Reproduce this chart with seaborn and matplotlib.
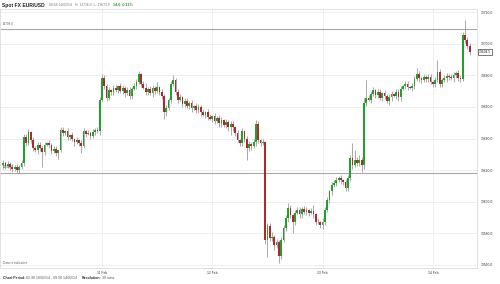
import numpy as np
import pandas as pd
import matplotlib
matplotlib.use("Agg")
import matplotlib.pyplot as plt
import seaborn as sns
from matplotlib.transforms import blended_transform_factory

sns.set_theme(style="white")
plt.rcParams["font.family"] = ["Liberation Sans", "DejaVu Sans"]

# ---------------- data (30-minute candles, EUR/USD x10000) ----------------
first_hour = 2.5          # 02:30 on 10 Feb (hours since 10 Feb 00:00)
step_hours = 0.5          # resolution 30 mins
first_open = 13623.0

close = [
    13624.5, 13622.5, 13624, 13622, 13620.5, 13622, 13620, 13622, 13624.5, 13641,
    13637, 13644, 13639, 13634, 13632.5, 13636, 13634, 13631.5, 13636, 13637,
    13636, 13632, 13633.5, 13631, 13632.5, 13645.5, 13643.5, 13644.5, 13641, 13642,
    13639.5, 13637.5, 13639, 13637, 13635, 13644.5, 13643, 13643.5, 13641.5, 13644,
    13645.5, 13644.5, 13664.5, 13678, 13673.5, 13665.5, 13670.5, 13669.5, 13672, 13670.5,
    13673, 13670, 13672, 13668.5, 13670.5, 13667, 13671.5, 13673, 13675.5, 13680.5,
    13674.5, 13672, 13669.5, 13671.5, 13668.5, 13672, 13670, 13672.5, 13669.5, 13667,
    13656.5, 13659, 13664.5, 13674.5, 13677, 13669.5, 13664.5, 13666, 13662, 13663.5,
    13660.5, 13662.5, 13659, 13660.5, 13658, 13660, 13656.5, 13655, 13656.5, 13653.5,
    13652.5, 13654, 13651, 13653, 13649.5, 13651.5, 13648.5, 13650.5, 13647, 13649,
    13647, 13643.5, 13639, 13637, 13644.5, 13639.5, 13634, 13636.5, 13635, 13637.5,
    13649, 13639, 13637, 13637.5, 13575.5, 13584.5, 13577, 13578, 13572.5, 13574.5,
    13566, 13575.5, 13583.5, 13589.5, 13596, 13591.5, 13587, 13593, 13594.5, 13592,
    13595.5, 13593.5, 13594.5, 13593, 13594, 13592, 13587.5, 13587, 13585, 13587.5,
    13594.5, 13601, 13606.5, 13610.5, 13612, 13613.5, 13615, 13613.5, 13612.5, 13608.5,
    13615, 13627.5, 13623, 13626.5, 13624.5, 13626.5, 13623, 13662.5, 13665.5, 13664.5,
    13668, 13670.5, 13667.5, 13669.5, 13665.5, 13668.5, 13667, 13663.5, 13666, 13668,
    13667, 13669.5, 13666, 13671.5, 13673, 13674.5, 13672.5, 13672, 13673, 13677.5,
    13680.5, 13678, 13677, 13679, 13677.5, 13679, 13675.5, 13674.5, 13677, 13682,
    13674.5, 13677, 13678, 13679.5, 13679, 13678, 13680, 13681.5, 13678, 13677.5,
    13705.5, 13702.5, 13698.5, 13694.5,
]

upper_wick = [
    2, 1, 2, 1, 2, 1, 2, 1, 2, 2,
    2, 2, 1, 2, 1, 2, 2, 1, 2, 1,
    2, 1, 2, 2, 1, 2, 2, 1, 2, 1,
    2, 1, 2, 1, 2, 2, 1, 2, 1, 2,
    1, 2, 2, 3, 2, 1, 2, 1, 2, 2,
    1, 2, 2, 1, 2, 2, 1, 2, 2, 2,
    1, 2, 3, 1, 2, 2, 1, 3, 1, 2,
    1, 2, 1, 2, 3, 1, 2, 2, 1, 2,
    2, 1, 2, 1, 2, 2, 1, 2, 1, 2,
    2, 1, 2, 1, 2, 2, 1, 2, 1, 2,
    2, 1, 2, 1, 2, 1, 2, 2, 1, 2,
    3, 2, 1, 2, 1, 2, 2, 3, 1, 2,
    1, 2, 2, 2, 3, 2, 1, 2, 2, 2,
    1, 2, 2, 1, 2, 4, 1, 2, 1, 2,
    2, 2, 1, 2, 2, 2, 1, 2, 1, 2,
    2, 2, 9.5, 6, 2, 3, 2, 3, 11.5, 2,
    2, 2, 1, 2, 2, 1, 2, 1, 2, 2,
    1, 2, 2, 2, 1, 2, 2, 1, 2, 2,
    4, 2, 1, 2, 1, 2, 2, 1, 2, 7.5,
    2, 1, 2, 2, 1, 2, 2, 1, 2, 2,
    2, 9.5, 2, 2,
]

lower_wick = [
    2, 2, 1, 2, 2, 1, 2, 2, 1, 2,
    2, 1, 2, 2, 1, 2, 2, 9.5, 2, 1,
    2, 2, 1, 2, 4, 1, 2, 1, 2, 2,
    1, 2, 1, 2, 4, 1, 2, 1, 2, 1,
    2, 1, 2, 1, 2, 2, 1, 2, 2, 1,
    2, 1, 2, 2, 1, 2, 2, 1, 2, 1,
    2, 1, 2, 2, 1, 2, 2, 1, 2, 2,
    4, 2, 1, 2, 1, 2, 2, 1, 2, 2,
    1, 2, 2, 1, 2, 2, 2, 1, 2, 2,
    1, 2, 2, 1, 2, 2, 1, 2, 2, 5,
    2, 2, 1, 2, 2, 2, 7.5, 2, 2, 1,
    2, 2, 2, 1, 2, 10.5, 2, 2, 3, 2,
    5, 2, 1, 2, 2, 2, 7, 2, 1, 2,
    2, 1, 2, 2, 1, 2, 2, 1, 1.5, 2,
    2, 1, 2, 2, 1, 2, 1, 2, 2, 2,
    2, 2, 2, 1, 2, 2, 4.5, 2, 2, 1,
    2, 1, 2, 2, 1, 2, 2, 1, 2, 2,
    1, 2, 2, 2, 1, 2, 2, 1, 2, 2,
    1, 2, 2, 1, 2, 2, 1, 2, 2, 1,
    2, 2, 1, 2, 2, 1, 2, 2, 1.5, 2,
    1, 2, 2, 2,
]

y_ticks = [13560, 13580, 13600, 13620, 13640, 13660, 13680, 13700, 13720]
day_hours = [24, 48, 72, 96]
day_labels = ["11 Feb", "12 Feb", "13 Feb", "14 Feb"]
ref_levels = [13709.0, 13618.4]
last_price = 13694.5

# ---------------- build table ----------------
n = len(close)
df = pd.DataFrame({"hour": first_hour + step_hours * np.arange(n), "close": close})
df["open"] = [first_open] + close[:-1]
df["high"] = df[["open", "close"]].max(axis=1) + np.array(upper_wick)
df["low"] = df[["open", "close"]].min(axis=1) - np.array(lower_wick)
df["up"] = df["close"] >= df["open"]

GREEN = "#1fa22a"
RED = "#b0282d"
WICK = "#9b9b9b"

# ---------------- figure ----------------
W, H = 500, 284
fig = plt.figure(figsize=(W / 100, H / 100), dpi=100)
ax = fig.add_axes([0.0, 1 - 268 / H, 477 / W, (268 - 9) / H])

ax.vlines(df["hour"], df["low"], df["high"], color=WICK, lw=0.6, zorder=2)
body = (df["close"] - df["open"]).to_numpy()
body = np.where(np.abs(body) < 0.4, 0.4, body)
ax.bar(df["hour"], body, bottom=df["open"], width=0.38,
       color=np.where(df["up"], GREEN, RED), linewidth=0, zorder=3)

for lvl in ref_levels:
    ax.axhline(lvl, color="#a8a8a8", lw=0.8, zorder=1)

ax.set_xlim(1.81, 105.6)
ax.set_ylim(13558.1, 13721.9)
ax.set_yticks(y_ticks)
ax.set_yticklabels([f"{v:.1f}" for v in y_ticks])
ax.set_xticks(day_hours)
ax.set_xticklabels(day_labels)
ax.yaxis.tick_right()
ax.tick_params(axis="y", labelsize=2.4, pad=3, length=0, labelcolor="#333333")
ax.tick_params(axis="x", labelsize=2.4, pad=2, length=0, labelcolor="#333333")
ax.grid(True, color="#ededed", lw=0.6, zorder=0)
for s in ax.spines.values():
    s.set_color("#dcdcdc")
    s.set_linewidth(0.6)

tr = blended_transform_factory(ax.transAxes, ax.transData)
for lvl in ref_levels:
    ax.text(0.006, lvl + 2.2, f"{lvl:.1f}", transform=tr, fontsize=2.2,
            color="#555555", va="bottom", ha="left")

ax.text(1.003, last_price, f"{last_price:.1f}", transform=tr, fontsize=2.4,
        color="#222222", va="center", ha="left",
        bbox=dict(boxstyle="square,pad=0.25", fc="white", ec="#444444", lw=0.5))

ax.text(0.006, 0.012, "Data is indicative", transform=ax.transAxes, fontsize=2.3,
        color="#666666", va="bottom", ha="left")

renderer = fig.canvas.get_renderer()


def chain(x_px, y_px, parts):
    """Place text pieces one after another, starting at pixel (x_px, y_px)."""
    x = x_px / W
    for txt, size, weight, color, gap in parts:
        t = fig.text(x, 1 - y_px / H, txt, fontsize=size, fontweight=weight,
                     color=color, va="center", ha="left")
        bb = t.get_window_extent(renderer)
        x = (bb.x1 + gap) / W


chain(2, 5, [
    ("Spot FX EUR/USD", 3.6, "bold", "#222222", 4),
    ("08:48 14/02/14", 2.4, "normal", "#777777", 4),
    ("H: 13716.0  L: 13673.0", 2.4, "normal", "#777777", 3),
    ("14.0  0.11%", 2.7, "bold", "#2aa02a", 0),
])

chain(3, 278, [
    ("Chart Period:", 2.5, "bold", "#333333", 1),
    ("02:30 10/02/14 - 09:30 14/02/14", 2.5, "normal", "#555555", 4),
    ("Resolution:", 2.5, "bold", "#333333", 1),
    ("30 mins", 2.5, "normal", "#555555", 0),
])

fig.savefig("out.png", dpi=100, facecolor="white")
